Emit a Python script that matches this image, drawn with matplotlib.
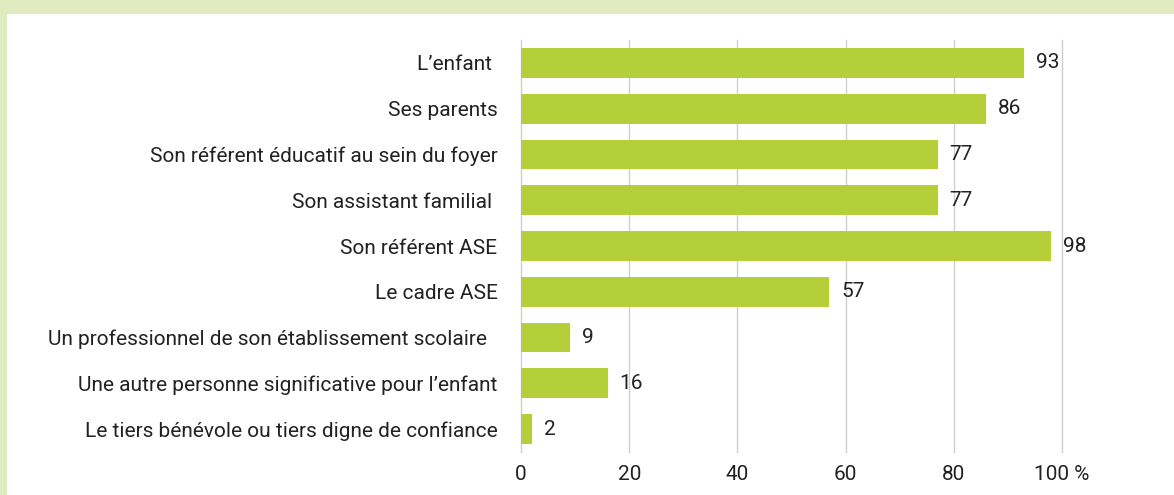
import matplotlib
matplotlib.use("Agg")
import matplotlib.pyplot as plt
from matplotlib.patches import Rectangle

categories = [
    "L\u2019enfant ",
    "Ses parents",
    "Son référent éducatif au sein du foyer",
    "Son assistant familial ",
    "Son référent ASE",
    "Le cadre ASE",
    "Un professionnel de son établissement scolaire  ",
    "Une autre personne significative pour l\u2019enfant",
    "Le tiers bénévole ou tiers digne de confiance",
]
values = [93, 86, 77, 77, 98, 57, 9, 16, 2]
xticks = [0, 20, 40, 60, 80, 100]
xtick_labels = ["0", "20", "40", "60", "80", "100 %"]

BAR = "#b5cf3a"
BORDER = "#e2eabf"
TEXT = "#222222"
GRID = "#cfcfcf"
FS = 15

plt.rcParams["font.family"] = ["Roboto", "DejaVu Sans"]

W, H = 1174, 495
fig = plt.figure(figsize=(W / 100, H / 100), dpi=100)
fig.patch.set_facecolor(BORDER)
fig.patches.append(Rectangle((7 / W, 0), 1 - 7 / W, 1 - 14 / H, transform=fig.transFigure,
                             facecolor="white", edgecolor="none", zorder=-10))

left, right = 521 / W, 1062 / W
top, bottom = 1 - 40 / H, 1 - 452 / H
ax = fig.add_axes([left, bottom, right - left, top - bottom])
ax.set_facecolor("none")

y = list(range(len(categories)))
ax.barh(y, values, height=0.65, color=BAR, zorder=3)
ax.set_ylim(len(categories) - 0.5, -0.5)
ax.set_xlim(0, 100)

for yi, v in zip(y, values):
    ax.text(v + 2.2, yi, str(v), va="center", ha="left", fontsize=FS, color=TEXT, clip_on=False)

ax.set_yticks(y)
ax.set_yticklabels(categories, fontsize=FS, color=TEXT)
ax.set_xticks(xticks)
ax.set_xticklabels(xtick_labels, fontsize=FS, color=TEXT)
ax.tick_params(axis="y", length=0, pad=17)
ax.tick_params(axis="x", length=0, pad=9)
ax.grid(axis="x", color=GRID, linewidth=1.0, zorder=0)
for gl in ax.get_xgridlines():
    gl.set_clip_on(False)
for s in ax.spines.values():
    s.set_visible(False)

fig.savefig("out.png", dpi=100, facecolor=fig.get_facecolor())
